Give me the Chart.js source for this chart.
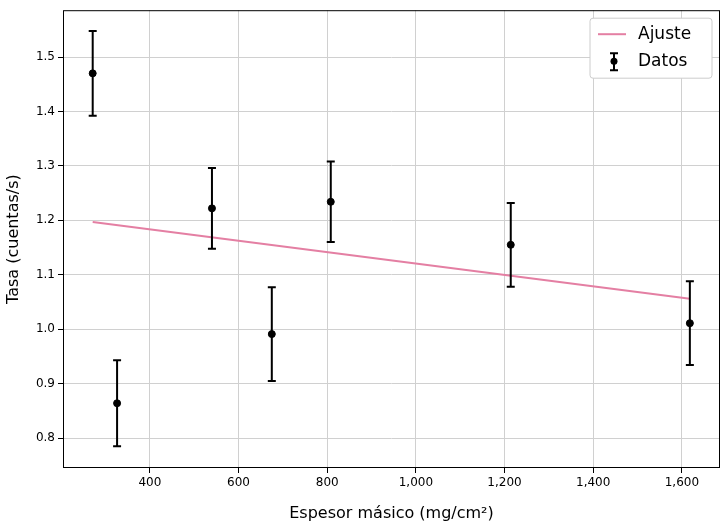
<!DOCTYPE html>
<html><head><meta charset="utf-8">
<script src="https://cdn.jsdelivr.net/npm/chart.js"></script>
<style>html,body{margin:0;padding:0;background:#fff}</style>
</head><body>
<canvas id="c" width="727" height="527" style="width:727px;height:527px"></canvas>
<script>
const xData=[271,326,540,675,808,1214,1618];
const yData=[1.470,0.864,1.222,0.991,1.234,1.155,1.011];
const yErr=[0.078,0.079,0.074,0.086,0.074,0.077,0.077];
const fitX=[271,1618];
const fitY=[1.197,1.056];
const xTicks=[400,600,800,1000,1200,1400,1600];
const yTicks=[0.8,0.9,1.0,1.1,1.2,1.3,1.4,1.5];

const errPlugin={id:'err',afterDatasetsDraw(ch){
 const c=ch.ctx,xs=ch.scales.x,ys=ch.scales.y;
 c.save();c.strokeStyle='#000';c.lineWidth=2;
 xData.forEach((x,i)=>{const px=xs.getPixelForValue(x);
  const t=ys.getPixelForValue(yData[i]+yErr[i]),b=ys.getPixelForValue(yData[i]-yErr[i]);
  c.beginPath();c.moveTo(px,t);c.lineTo(px,b);c.moveTo(px-4,t);c.lineTo(px+4,t);c.moveTo(px-4,b);c.lineTo(px+4,b);c.stroke();});
 // frame
 const a=ch.chartArea;c.lineWidth=1;c.strokeRect(a.left+0.5,a.top+0.5,a.right-a.left-1,a.bottom-a.top-1);
 // legend
 const lx=a.right-130,ly=a.top+8;
 c.fillStyle='#fff';c.strokeStyle='#ccc';c.beginPath();c.roundRect(lx,ly,122,60,3);c.fill();c.stroke();
 c.strokeStyle='#e47fa3';c.lineWidth=2;c.beginPath();c.moveTo(lx+8,ly+16);c.lineTo(lx+36,ly+16);c.stroke();
 c.strokeStyle='#000';c.beginPath();c.moveTo(lx+24,ly+35);c.lineTo(lx+24,ly+52);c.moveTo(lx+20,ly+35);c.lineTo(lx+28,ly+35);c.moveTo(lx+20,ly+52);c.lineTo(lx+28,ly+52);c.stroke();
 c.fillStyle='#000';c.beginPath();c.arc(lx+24,ly+43,3.5,0,7);c.fill();
 c.font='17px "DejaVu Sans"';c.textBaseline='middle';c.fillText('Ajuste',lx+48,ly+16);c.fillText('Datos',lx+48,ly+43);
 c.restore();}};

new Chart(document.getElementById('c'),{
 type:'scatter',
 data:{datasets:[
  {type:'line',data:fitX.map((x,i)=>({x,y:fitY[i]})),borderColor:'#e47fa3',borderWidth:2,pointRadius:0,fill:false},
  {data:xData.map((x,i)=>({x,y:yData[i]})),backgroundColor:'#000',borderColor:'#000',pointRadius:3.5}
 ]},
 options:{responsive:false,animation:false,events:[],
  layout:{padding:{left:0,right:7,top:8,bottom:0}},
  plugins:{legend:{display:false},tooltip:{enabled:false}},
  scales:{
   x:{type:'linear',min:204,max:1686,afterFit(s){s.height=59;},
    afterBuildTicks(s){s.ticks=xTicks.map(v=>({value:v}));},
    grid:{color:'#d0d0d0',drawTicks:true,tickColor:'#000',tickLength:5},border:{display:false},
    ticks:{color:'#000',font:{size:12,family:'DejaVu Sans'},maxRotation:0},
    title:{display:true,text:'Espesor másico (mg/cm²)',color:'#000',font:{size:16,family:'DejaVu Sans'},padding:{top:2}}},
   y:{min:0.745,max:1.586,afterFit(s){s.width=63;},
    afterBuildTicks(s){s.ticks=yTicks.map(v=>({value:v}));},
    grid:{color:'#d0d0d0',tickColor:'#000',tickLength:5},border:{display:false},
    ticks:{color:'#000',font:{size:12,family:'DejaVu Sans'},callback:v=>v.toFixed(1)},
    title:{display:true,text:'Tasa (cuentas/s)',color:'#000',font:{size:16,family:'DejaVu Sans'},padding:{bottom:2}}}
  }},
 plugins:[errPlugin]
});
</script>
</body></html>
